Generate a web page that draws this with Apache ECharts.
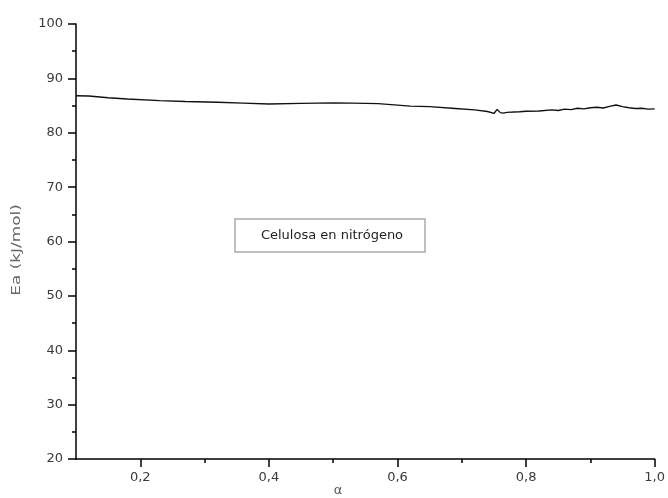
<!DOCTYPE html>
<html>
<head>
<meta charset="utf-8">
<script src="https://cdn.jsdelivr.net/npm/echarts@6/dist/echarts.min.js"></script>
<style>
    html, body { margin: 0; padding: 0; background: #fff; }
    #chart { width: 668px; height: 498px; }
</style>
</head>
<body>
<div id="chart"></div>
<script>
// valores
var alpha = [0.10, 0.12, 0.15, 0.18, 0.23, 0.27, 0.32, 0.36, 0.40, 0.45, 0.50, 0.53, 0.57, 0.62, 0.65, 0.69,
    0.72, 0.74, 0.75, 0.755, 0.76, 0.765, 0.77, 0.79, 0.80, 0.82, 0.84, 0.85, 0.86, 0.87, 0.88, 0.89,
    0.90, 0.91, 0.92, 0.93, 0.94, 0.95, 0.96, 0.97, 0.98, 0.99, 1.00];
var ea = [86.8, 86.75, 86.45, 86.2, 85.9, 85.75, 85.6, 85.45, 85.3, 85.4, 85.5, 85.45, 85.35, 84.9, 84.8, 84.45,
    84.2, 83.9, 83.55, 84.3, 83.7, 83.6, 83.75, 83.85, 83.95, 84.0, 84.2, 84.1, 84.35, 84.25, 84.5, 84.4,
    84.6, 84.7, 84.55, 84.85, 85.1, 84.8, 84.6, 84.45, 84.5, 84.35, 84.4];
var xMajor = [0.2, 0.4, 0.6, 0.8, 1.0];
var xMinor = [0.3, 0.5, 0.7, 0.9];
var yLabelName = "Ea (kJ/mol)";
var xLabelName = "α";
var boxText = "Celulosa en nitrógeno";

var chart = echarts.init(document.getElementById("chart"));
var font = "DejaVu Sans, Verdana, sans-serif";
var lblColor = "#3a3a3a";

var points = [];
for (var i = 0; i < alpha.length; i++) {
    points.push([alpha[i], ea[i]]);
}

chart.setOption({
    animation: false,
    backgroundColor: "#fff",
    grid: { left: 76, right: 11, top: 24, bottom: 39 },
    xAxis: [{
        type: "value",
        min: 0.1,
        max: 1.0,
        axisLine: { lineStyle: { color: "#000", width: 1.5 } },
        axisTick: { length: 8, lineStyle: { color: "#000", width: 1.5 }, customValues: xMajor },
        axisLabel: {
            customValues: xMajor, margin: 12, color: lblColor, fontSize: 13, fontFamily: font,
            formatter: function (v) { return v.toFixed(1).replace(".", ","); }
        },
        splitLine: { show: false }
    }, {
        type: "value",
        position: "bottom",
        min: 0.1,
        max: 1.0,
        axisLine: { show: false },
        axisTick: { length: 4, lineStyle: { color: "#000", width: 1.5 }, customValues: xMinor },
        axisLabel: { show: false },
        splitLine: { show: false }
    }],
    yAxis: {
        type: "value",
        min: 20,
        max: 100,
        interval: 10,
        axisLine: { show: true, lineStyle: { color: "#000", width: 1.5 } },
        axisTick: { show: true, length: 8, lineStyle: { color: "#000", width: 1.5 } },
        minorTick: { show: true, splitNumber: 2, length: 4, lineStyle: { color: "#000", width: 1.5 } },
        axisLabel: { margin: 13, color: lblColor, fontSize: 13, fontFamily: font },
        splitLine: { show: false }
    },
    graphic: [{
        type: "text",
        x: 17,
        y: 250,
        rotation: Math.PI / 2,
        scaleX: 1.3,
        style: {
            text: yLabelName, fill: "#666", fontSize: 13, fontFamily: font,
            align: "center", verticalAlign: "middle"
        }
    }, {
        type: "text",
        x: 338,
        y: 491,
        style: {
            text: xLabelName, fill: "#555", fontSize: 13, fontFamily: font,
            align: "center", verticalAlign: "middle"
        }
    }, {
        type: "rect",
        shape: { x: 235, y: 219, width: 190, height: 33 },
        style: { fill: "#fff", stroke: "#aaa", lineWidth: 1.5 }
    }, {
        type: "text",
        x: 332,
        y: 236,
        style: {
            text: boxText, fill: "#222", fontSize: 13, fontFamily: font,
            align: "center", verticalAlign: "middle"
        }
    }],
    series: [{
        type: "line",
        xAxisIndex: 0,
        data: points,
        showSymbol: false,
        lineStyle: { color: "#111", width: 1.4 }
    }]
});
</script>
</body>
</html>
